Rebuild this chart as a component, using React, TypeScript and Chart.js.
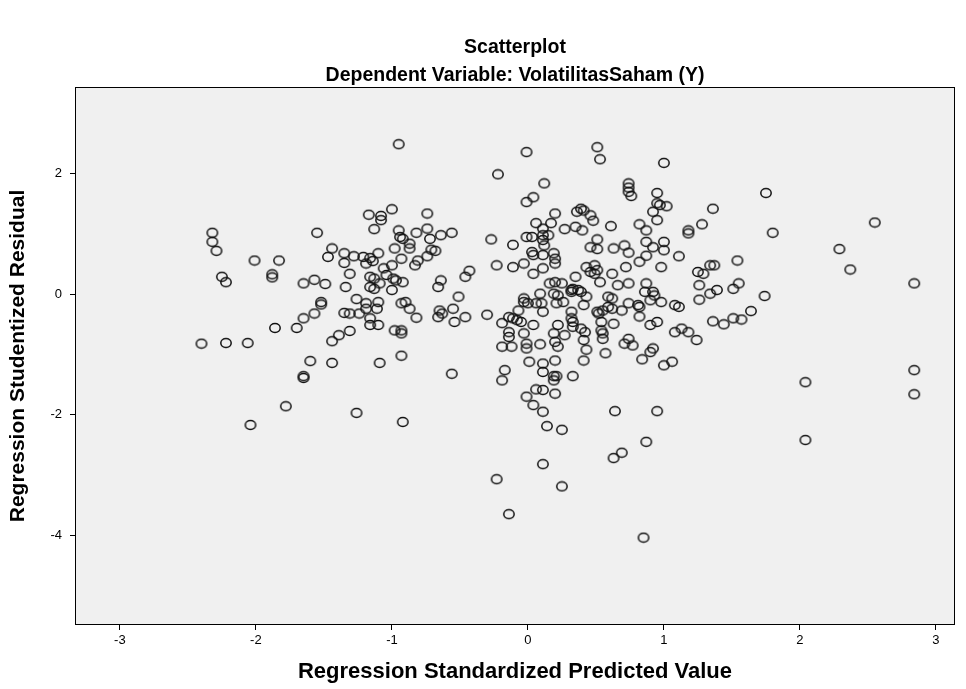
import React, { useEffect, useRef } from "react";
import { Chart, registerables } from "chart.js";

Chart.register(...registerables);

const chartTitle = "Scatterplot";
const chartSubtitle = "Dependent Variable: VolatilitasSaham (Y)";
const xAxisTitle = "Regression Standardized Predicted Value";
const yAxisTitle = "Regression Studentized Residual";

const xTickValues = [-3, -2, -1, 0, 1, 2, 3];
const yTickValues = [-4, -2, 0, 2];
const xRange = [-3.33, 3.14];
const yRange = [-5.49, 3.44];

// Regression standardized predicted values (x)
const predicted = [
  -2.32, -2.32, -2.29, -2.01, -1.83, -1.55, -1.44, -1.47, -1.35, -1.28, -1.35, -1.21, -1.17, -1.08, -1.08, -1.13, -1.10, -1.16, -1.14, -1.19,
  -2.25, -2.22, -1.88, -1.88, -1.65, -1.57, -1.49, -1.31, -1.34, -1.52,
  -1.52, -1.57, -1.65, -1.70, -1.86, -2.40, -2.22, -2.06, -1.60, -1.44,
  -1.65, -1.65, -1.78, -1.26, -1.44, -1.39, -1.31, -1.26, -1.19, -1.35,
  -1.31, -1.24, -1.16, -1.13, -1.16, -1.13, -1.09, -1.10, -1.19, -1.11,
  -1.16, -1.16, -1.10, -1.09, -2.04,
  -0.95, -0.01, -0.22, 0.12, 0.04, -0.01, -1.00, -0.74, -0.95, -0.94,
  -0.92, -0.82, -0.74, -0.72, -0.64, -0.56, -0.87, -0.87, -0.98, -0.71,
  -0.68, -0.74, -0.93, -0.81, -0.83, -1.00, -1.06, -0.43, -0.27, -0.11,
  -0.23, -0.11, -0.03, 0.06, 0.11, 0.17, 0.20, 0.27, -0.01, 0.03,
  0.11, 0.15, 0.11, 0.12, 0.03, 0.04, 0.11, 0.19, 0.20, 0.20,
  0.11,
  0.51, 0.53, 1.00, 0.74, 0.74, 0.74, 0.76, 0.95, 1.75, 0.95,
  0.97, 1.02, 0.92, 0.95, 1.36, 0.36, 0.39, 0.41, 0.46, 0.48,
  0.35, 0.40, 0.61, 0.82, 0.87, 1.28, 1.18, 1.18, 0.51, 0.46,
  0.51, 0.63, 0.71, 0.74, 0.87, 0.92, 1.00, 1.00, 0.87, 0.82,
  1.11, 0.72, 0.98, 1.54, 1.25, 1.34, 1.37, 0.43, 0.49, 0.51,
  0.46, 0.62,
  1.80, 2.55, 2.29, 2.37, 2.84, 1.74, 2.04, 2.84, 2.84, 2.04,
  -1.04, -0.99, -0.97, -0.92, -1.00, -0.93, -0.90, -0.87, -0.82, -0.64,
  -0.66, -0.46, -0.51, -0.65, -0.63, -0.66, -0.55, -0.54, -0.46, -0.30,
  0.04, 0.16, 0.20, 0.25, 0.32, 0.32, 0.19, 0.22, 0.26, 0.21,
  0.09, 0.10, -0.03, -0.03, 0.00, 0.06, 0.11, -0.07, -0.14, -0.11,
  -0.08, -0.19, -0.05, 0.32, 0.32, 0.04, 0.22, 0.27, -0.14, -0.14,
  -0.03, -0.98, -0.93, -0.93, -0.19, -0.12, -0.01, -0.01, 0.09, 0.19,
  0.20, 0.22, -0.93, -0.56, -0.17, -0.19, 0.01, 0.11, 0.11, 0.20,
  0.19, 0.21, 0.19, 0.33, -0.01, 0.06, 0.11, 0.20, 0.04, 0.11,
  -0.92, 0.14, 0.25, 0.11, -0.23, 0.25, -0.14,
  0.35, 0.33, 0.37, 0.39, 0.43, 0.41, 0.49, 0.53, 0.66, 0.74,
  0.87, 0.86, 0.92, 0.93, 0.90, 0.98, 0.59, 0.62, 0.59, 0.62,
  0.55, 0.52, 0.51, 0.74, 0.81, 0.82, 0.69, 0.82, 1.08, 1.11,
  0.33, 0.33, 0.54, 0.63, 0.54, 0.55, 0.55, 0.42, 0.39, 0.41,
  0.43, 0.41, 0.90, 0.95, 1.08, 1.13, 1.18, 1.24, 0.74, 0.71,
  0.77, 0.57, 0.92, 0.90, 0.84, 1.00, 1.06, 1.29, 1.26, 1.26,
  1.34, 1.39, 1.51, 1.55, 1.64, 1.36, 1.44, 1.51, 1.57, 0.64,
  0.95,
  0.87, 0.69, 0.63, 0.85,
];

// Regression studentized residuals (y)
const residual = [
  1.02, 0.87, 0.72, 0.56, 0.56, 1.02, 0.76, 0.62, 0.68, 0.63, 0.52, 0.62, 1.32, 1.30, 1.23, 1.08, 0.68, 0.60, 0.55, 0.51,
  0.29, 0.20, 0.33, 0.28, 0.18, 0.24, 0.17, 0.34, 0.12, -0.13,
  -0.17, -0.32, -0.40, -0.56, -0.56, -0.82, -0.81, -0.81, -1.11, -1.14,
  -1.36, -1.39, -1.86, -1.97, -0.78, -0.68, -0.61, -0.08, -0.15, -0.31,
  -0.32, -0.32, 0.29, 0.26, 0.12, 0.09, 0.18, -0.13, -0.24, -0.24,
  -0.40, -0.51, -0.51, -1.14, -2.17,
  2.49, 2.36, 1.99, 1.84, 1.61, 1.53, 1.41, 1.34, 1.06, 0.95,
  0.92, 1.02, 1.09, 0.92, 0.98, 1.02, 0.84, 0.76, 0.76, 0.74,
  0.72, 0.63, 0.59, 0.56, 0.48, 0.48, 0.43, 0.39, 0.91, 0.82,
  0.48, 0.45, 0.51, 1.18, 1.09, 1.18, 1.34, 1.08, 0.95, 0.95,
  0.98, 0.98, 0.90, 0.81, 0.70, 0.65, 0.65, 0.68, 0.59, 0.51,
  0.43,
  2.44, 2.24, 2.18, 1.84, 1.77, 1.70, 1.63, 1.68, 1.68, 1.51,
  1.48, 1.46, 1.37, 1.23, 1.42, 1.37, 1.42, 1.39, 1.31, 1.22,
  1.12, 1.06, 1.13, 1.16, 1.06, 1.16, 1.06, 1.01, 0.91, 0.78,
  0.75, 0.76, 0.81, 0.69, 0.87, 0.78, 0.87, 0.73, 0.64, 0.54,
  0.63, 0.45, 0.45, 0.56, 0.37, 0.48, 0.48, 0.45, 0.48, 0.40,
  0.37, 0.34,
  1.02, 1.19, 0.75, 0.41, 0.18, -0.03, -1.46, -1.26, -1.66, -2.42,
  0.32, 0.26, 0.23, 0.20, 0.07, -0.15, -0.13, -0.24, -0.39, 0.23,
  0.12, 0.29, -0.04, -0.27, -0.32, -0.38, -0.24, -0.46, -0.38, -0.34,
  0.34, 0.18, 0.20, 0.18, 0.07, 0.04, 0.01, -0.02, -0.13, -0.15,
  0.01, -0.15, -0.07, -0.13, -0.15, -0.15, -0.29, -0.27, -0.38, -0.40,
  -0.43, -0.48, -0.46, -0.29, -0.40, -0.51, -0.51, -0.68, -0.63, -0.71,
  -0.65, -0.60, -0.60, -0.65, -0.87, -0.87, -0.82, -0.90, -0.83, -0.65,
  -0.79, -0.87, -1.02, -1.32, -1.26, -1.43, -1.12, -1.15, -1.29, -1.10,
  -1.36, -1.36, -1.43, -1.36, -1.70, -1.58, -1.59, -1.65, -1.84, -1.95,
  -2.12, -2.19, -2.25, -2.82, -3.07, -3.19, -3.65,
  0.29, 0.09, 0.07, 0.04, -0.04, -0.18, 0.34, 0.20, 0.15, 0.18,
  0.18, 0.04, 0.04, -0.02, -0.10, -0.13, -0.04, -0.07, -0.21, -0.24,
  -0.27, -0.32, -0.29, -0.15, -0.18, -0.21, -0.27, -0.37, -0.18, -0.21,
  -0.46, -0.54, -0.46, -0.49, -0.60, -0.65, -0.74, -0.63, -0.57, -0.76,
  -0.92, -1.10, -0.51, -0.46, -0.63, -0.57, -0.63, -0.76, -0.74, -0.82,
  -0.85, -0.98, -0.90, -0.96, -1.08, -1.18, -1.12, 0.34, 0.15, -0.09,
  0.01, 0.07, 0.09, 0.18, -0.28, -0.45, -0.50, -0.40, -0.42, -1.94,
  -1.94,
  -2.45, -2.63, -2.72, -4.04,
];

const FONT = '"Liberation Sans", Arial, sans-serif';

function makeMarker(): HTMLCanvasElement {
  const c = document.createElement("canvas");
  c.width = 14;
  c.height = 12;
  const g = c.getContext("2d")!;
  g.strokeStyle = "#111";
  g.lineWidth = 1.5;
  g.beginPath();
  g.ellipse(7, 6, 5.2, 4.4, 0, 0, Math.PI * 2);
  g.stroke();
  return c;
}

const decorPlugin = {
  id: "spssDecor",
  beforeDraw(chart: any) {
    const { ctx, chartArea: a } = chart;
    ctx.save();
    ctx.fillStyle = "#f0f0f0";
    ctx.fillRect(a.left, a.top, a.right - a.left, a.bottom - a.top);
    ctx.restore();
  },
  afterDraw(chart: any) {
    const { ctx, chartArea: a } = chart;
    ctx.save();
    ctx.strokeStyle = "#000";
    ctx.lineWidth = 1;
    ctx.strokeRect(Math.round(a.left) + 0.5, Math.round(a.top) + 0.5, Math.round(a.right - a.left) - 1, Math.round(a.bottom - a.top) - 1);
    const cx = (a.left + a.right) / 2;
    ctx.fillStyle = "#000";
    ctx.textAlign = "center";
    ctx.textBaseline = "middle";
    ctx.font = `bold 19.5px ${FONT}`;
    ctx.fillText(chartTitle, cx, 48);
    ctx.fillText(chartSubtitle, cx, 76);
    ctx.font = `bold 22px ${FONT}`;
    ctx.fillText(xAxisTitle, cx, 672);
    ctx.font = `bold 21px ${FONT}`;
    ctx.translate(18, (a.top + a.bottom) / 2);
    ctx.rotate(-Math.PI / 2);
    ctx.fillText(yAxisTitle, 0, 0);
    ctx.restore();
  },
};

export default function App() {
  const ref = useRef<HTMLCanvasElement | null>(null);
  useEffect(() => {
    document.body.style.margin = "0";
    const canvas = ref.current!;
    const marker = makeMarker();
    const data = predicted.map((x, i) => ({ x, y: residual[i] }));
    const chart = new Chart(canvas, {
      type: "scatter",
      data: {
        datasets: [
          {
            data,
            pointStyle: marker as any,
            pointRadius: 6,
            pointHoverRadius: 6,
          },
        ],
      },
      options: {
        animation: false,
        responsive: false,
        devicePixelRatio: 1,
        layout: { padding: { left: 0, top: 87, right: 11, bottom: 0 } },
        plugins: { legend: { display: false }, tooltip: { enabled: false }, title: { display: false } },
        scales: {
          x: {
            type: "linear",
            min: xRange[0],
            max: xRange[1],
            afterBuildTicks: (s: any) => {
              s.ticks = xTickValues.map((v) => ({ value: v }));
            },
            afterFit: (s: any) => {
              s.height = 64;
            },
            grid: { drawOnChartArea: false, drawTicks: true, tickLength: 5, color: "#000" },
            border: { display: false },
            ticks: { font: { family: FONT, size: 13 }, color: "#000", padding: 3, maxRotation: 0, autoSkip: false },
          },
          y: {
            type: "linear",
            min: yRange[0],
            max: yRange[1],
            afterBuildTicks: (s: any) => {
              s.ticks = yTickValues.map((v) => ({ value: v }));
            },
            afterFit: (s: any) => {
              s.width = 75;
            },
            grid: { drawOnChartArea: false, drawTicks: true, tickLength: 5, color: "#000" },
            border: { display: false },
            ticks: { font: { family: FONT, size: 13 }, color: "#000", padding: 8, autoSkip: false },
          },
        },
      },
      plugins: [decorPlugin],
    });
    return () => chart.destroy();
  }, []);
  return (
    <div style={{ width: 966, height: 689 }}>
      <canvas ref={ref} width={966} height={689} />
    </div>
  );
}
